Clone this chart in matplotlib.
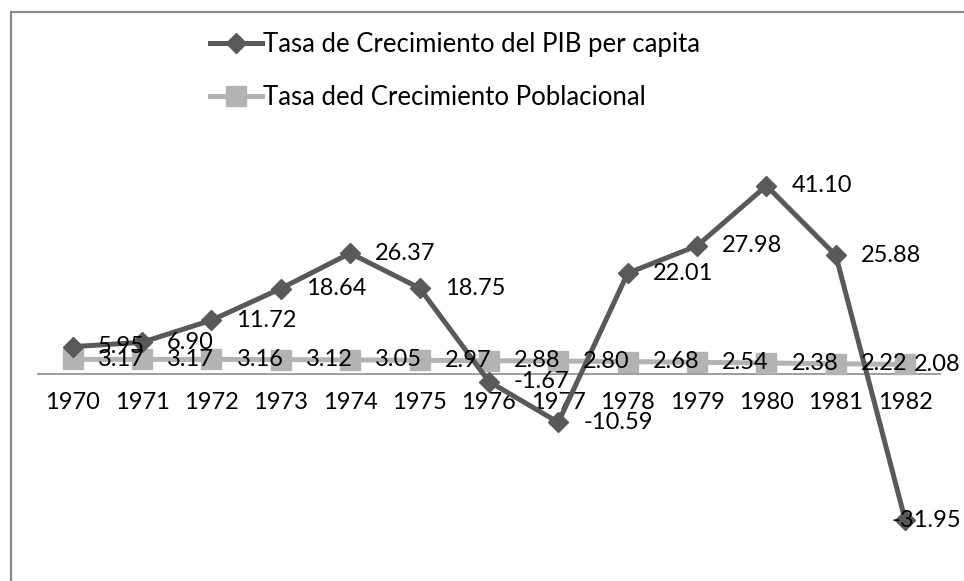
import matplotlib
matplotlib.use("Agg")
import matplotlib.pyplot as plt
from matplotlib.patches import Rectangle
import numpy as np

# Data
years = ["1970", "1971", "1972", "1973", "1974", "1975", "1976",
         "1977", "1978", "1979", "1980", "1981", "1982"]
pib_growth = [5.95, 6.90, 11.72, 18.64, 26.37, 18.75, -1.67,
              -10.59, 22.01, 27.98, 41.10, 25.88, -31.95]
pop_growth = [3.17, 3.17, 3.16, 3.12, 3.05, 2.97, 2.88,
              2.80, 2.68, 2.54, 2.38, 2.22, 2.08]
pib_name = "Tasa de Crecimiento del PIB per capita"
pop_name = "Tasa ded Crecimiento Poblacional"

# Style
plt.rcParams['font.family'] = ['Lato', 'DejaVu Sans']
FS = 17
dark = "#595959"
light = "#B3B3B3"

fig = plt.figure(figsize=(9.64, 5.81), dpi=100)
ax = fig.add_axes([0.0394, 0.0413, 0.9356, 0.7091])

x = np.arange(len(years))
ax.plot(x, pop_growth, color=light, lw=3.6, marker="s", ms=14,
        mec=light, mfc=light, zorder=3, label=pop_name)
ax.plot(x, pib_growth, color=dark, lw=3.6, marker="D", ms=10,
        mec=dark, mfc=dark, zorder=4, label=pib_name)

# Data labels, to the right of the points (last one pulled back inside)
for series in (pop_growth, pib_growth):
    for i, v in enumerate(series):
        if i == len(series) - 1:
            ax.annotate(f"{v:.2f}", (x[i], v), xytext=(40, 0), textcoords="offset points",
                        ha="right", va="center", fontsize=FS, color="black", zorder=5)
        else:
            ax.annotate(f"{v:.2f}", (x[i], v), xytext=(18, 0), textcoords="offset points",
                        ha="left", va="center", fontsize=FS, color="black", zorder=5)

ax.set_xlim(-0.5, len(years) - 0.5)
ax.set_ylim(-40, 50)
for s in ("top", "right", "left"):
    ax.spines[s].set_visible(False)
ax.spines["bottom"].set_position(("data", 0))
ax.spines["bottom"].set_color("#8C8C8C")
ax.spines["bottom"].set_linewidth(1.2)
ax.spines["bottom"].set_zorder(2)
ax.set_xticks(x)
ax.set_xticklabels(years)
ax.tick_params(axis="x", length=0, pad=13, labelsize=FS)
ax.set_yticks([])
ax.patch.set_alpha(0)

# Legend (PIB first)
h, l = ax.get_legend_handles_labels()
fig.legend(h[::-1], l[::-1], loc="center left", bbox_to_anchor=(0.218, 0.878),
           frameon=False, fontsize=18.5, handlelength=2.0, handletextpad=0.05,
           borderpad=0, borderaxespad=0, labelspacing=1.1)

# Chart border (right and bottom edges fall outside the picture)
fig.patches.append(Rectangle((10.5 / 964, -0.05), 1.2, 1 - 11.5 / 581 + 0.05,
                             transform=fig.transFigure, fill=False,
                             edgecolor="#898989", linewidth=1.6))

fig.savefig("out.png", dpi=100)
